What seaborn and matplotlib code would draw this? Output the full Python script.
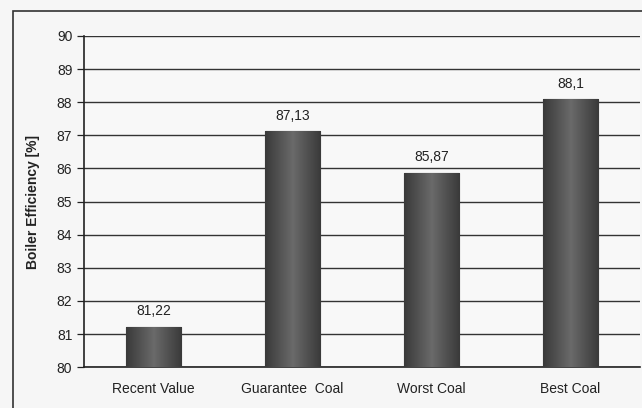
import numpy as np
import pandas as pd
import matplotlib
matplotlib.use("Agg")
import matplotlib.pyplot as plt
from matplotlib.patches import Rectangle
from matplotlib.colors import LinearSegmentedColormap
import seaborn as sns

categories = ["Recent Value", "Guarantee  Coal", "Worst Coal", "Best Coal"]
efficiency = [81.22, 87.13, 85.87, 88.1]
value_labels = ["81,22", "87,13", "85,87", "88,1"]
y_ticks = list(range(80, 91))

df = pd.DataFrame({"category": categories, "efficiency": efficiency})

sns.set_style("white")
plt.rcParams["font.family"] = ["Liberation Sans", "DejaVu Sans"]

fig = plt.figure(figsize=(6.42, 4.08), dpi=100)
fig.patch.set_facecolor("#f6f6f6")
ax = fig.add_axes([0.131, 0.100, 0.866, 0.812])
ax.set_facecolor("#f8f8f8")

sns.barplot(data=df, x="category", y="efficiency", color="#454545",
            width=0.4, edgecolor="#1a1a1a", linewidth=0.8, ax=ax, zorder=3)

ax.set_ylim(80, 90)
ax.set_xlim(-0.5, len(categories) - 0.5)
ax.set_yticks(y_ticks)
ax.yaxis.grid(True, color="#333333", linewidth=1.0, zorder=0)
ax.set_axisbelow(True)

# subtle cylinder shading on each bar
shade = LinearSegmentedColormap.from_list("shade", ["#6a6a6a", "#3a3a3a"])
grad = np.abs(np.linspace(-1, 1, 64))[None, :]
for bar in ax.patches:
    x0, w = bar.get_x(), bar.get_width()
    im = ax.imshow(grad, cmap=shade, vmin=0, vmax=1, aspect="auto",
                   extent=[x0, x0 + w, 80, bar.get_y() + bar.get_height()], zorder=3.5)
    im.set_clip_path(bar)

for i, (v, lab) in enumerate(zip(efficiency, value_labels)):
    ax.text(i, v + 0.25, lab, ha="center", va="bottom", fontsize=10, color="#222222")

# Excel-style ticks between categories
ax.set_xticks(range(len(categories)))
ax.set_xticklabels(categories, fontsize=10, color="#222222")
ax.tick_params(axis="x", which="major", length=0, pad=11)
ax.set_xticks(np.arange(0.5, len(categories) - 0.4, 1), minor=True)
ax.tick_params(axis="x", which="minor", length=5, width=0.9, color="#222222", direction="out")
ax.tick_params(axis="y", length=5, width=0.9, color="#222222", direction="out",
               labelsize=10, labelcolor="#222222", left=True)

ax.set_xlabel("")
ax.set_ylabel("Boiler Efficiency [%]", fontsize=10, fontweight="bold", color="#222222", labelpad=12)

for side in ["top", "right"]:
    ax.spines[side].set_visible(False)
for side in ["left", "bottom"]:
    ax.spines[side].set_color("#222222")
    ax.spines[side].set_linewidth(1.2)

# outer frame of the chart area
fig.patches.append(Rectangle((13 / 642, -0.1), 1.0, 1 - 11 / 408 + 0.1,
                             transform=fig.transFigure, fill=False,
                             edgecolor="#333333", linewidth=1.2))

fig.savefig("out.png", dpi=100, facecolor=fig.get_facecolor())
